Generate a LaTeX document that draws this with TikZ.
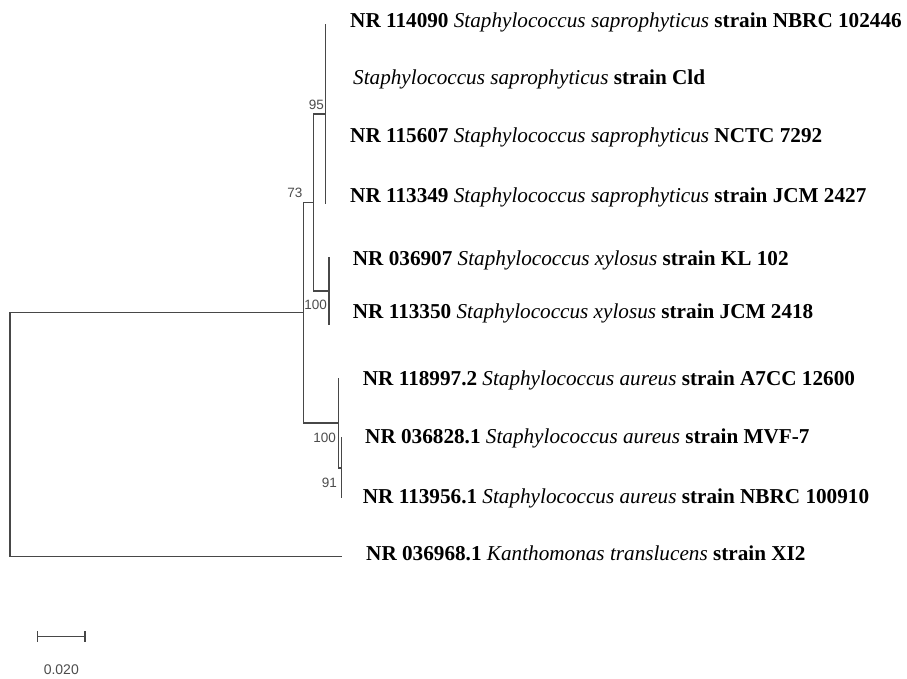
\documentclass[tikz,border=0pt]{standalone}
\usepackage{fontspec}
\setmainfont{Liberation Serif}
\newfontfamily\bootfont{Liberation Sans}
\begin{document}
\begin{tikzpicture}[x=1pt,y=-1pt,
  br/.style={draw=black!72,line width=1.5pt,line cap=rect},
  boot/.style={font=\bootfont\fontsize{13.5}{14}\selectfont,text=black!70,inner sep=0pt,anchor=east},
  leaf/.style={font=\fontsize{21.2}{23}\selectfont\bfseries,inner sep=0pt,anchor=base west}]
\path[use as bounding box] (0,0) rectangle (907,679);
% tree coordinates
\coordinate (R) at (10,312.7);
\coordinate (I) at (303.3,312.7);
\coordinate (N73) at (313.3,202.5);
\coordinate (N95) at (325.7,114);
\coordinate (s1) at (325.7,25);
\coordinate (s4) at (325.7,203);
\coordinate (Nx) at (328.8,291);
\coordinate (x1) at (328.8,258);
\coordinate (x2) at (328.8,324);
\coordinate (Na) at (338.3,423);
\coordinate (a1) at (338.3,379);
\coordinate (N91) at (341.7,468);
\coordinate (a2) at (341.7,438);
\coordinate (a3) at (341.7,497);
\coordinate (O) at (341.7,556.7);
% branches
\draw[br] (R) |- (O);
\draw[br] (R) -- (I);
\draw[br] (I) |- (N73);
\draw[br] (I) |- (Na);
\draw[br] (N73) |- (N95);
\draw[br] (N73) |- (Nx);
\draw[br] (s1) -- (s4);
\draw[br] (x1) -- (x2);
\draw[br] (a1) |- (N91);
\draw[br] (a2) -- (a3);
% bootstrap values
\node[boot] (b95) at (324,105) {95};
\node[boot] (b73) at (302.5,193) {73};
\node[boot] (b100x) at (327,305) {100};
\node[boot] (b100a) at (336,438) {100};
\node[boot] (b91) at (337,483) {91};
% leaf labels
\node[leaf] (L1) at (350,28) {NR 114090 \textit{\mdseries Staphylococcus saprophyticus} strain NBRC 102446};
\node[leaf] (L2) at (353,85) {\textit{\mdseries Staphylococcus saprophyticus} strain Cld};
\node[leaf] (L3) at (350,143) {NR 115607 \textit{\mdseries Staphylococcus saprophyticus} NCTC 7292};
\node[leaf] (L4) at (350,203) {NR 113349 \textit{\mdseries Staphylococcus saprophyticus} strain JCM 2427};
\node[leaf] (L5) at (352.7,265) {NR 036907 \textit{\mdseries Staphylococcus xylosus} strain KL 102};
\node[leaf] (L6) at (352.7,318) {NR 113350 \textit{\mdseries Staphylococcus xylosus} strain JCM 2418};
\node[leaf] (L7) at (362.7,385) {NR 118997.2 \textit{\mdseries Staphylococcus aureus} strain A7CC 12600};
\node[leaf] (L8) at (365,443) {NR 036828.1 \textit{\mdseries Staphylococcus aureus} strain MVF-7};
\node[leaf] (L9) at (362.7,503) {NR 113956.1 \textit{\mdseries Staphylococcus aureus} strain NBRC 100910};
\node[leaf] (L10) at (366,560) {NR 036968.1 \textit{\mdseries Kanthomonas translucens} strain XI2};
% scale bar
\coordinate (sb1) at (37.3,636.7);
\coordinate (sb2) at (85,636.7);
\draw[br,line width=1.2pt] (sb1) -- (sb2);
\draw[br,line width=1.2pt] ([yshift=-5pt]sb1) -- ([yshift=5pt]sb1);
\draw[br,line width=1.2pt] ([yshift=-5pt]sb2) -- ([yshift=5pt]sb2);
\node[boot,anchor=center,font=\bootfont\fontsize{14}{15}\selectfont] (sbl) at (61.3,670) {0.020};
\end{tikzpicture}
\end{document}
